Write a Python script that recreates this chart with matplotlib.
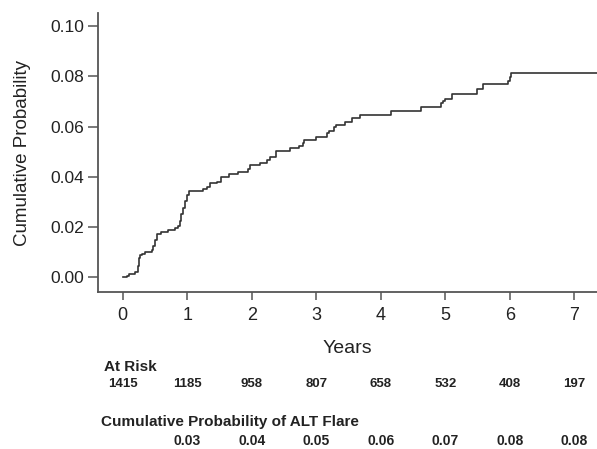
import numpy as np
import matplotlib
matplotlib.use("Agg")
import matplotlib.pyplot as plt
import matplotlib.transforms as mtransforms

plt.rcParams['font.family'] = ['Liberation Sans', 'DejaVu Sans']

# step times (years) and cumulative probability after each step
times = [0.0, 0.06, 0.09, 0.19, 0.23, 0.25, 0.27, 0.30, 0.35, 0.45, 0.47, 0.50,
         0.53, 0.60, 0.70, 0.81, 0.86, 0.89, 0.91, 0.93, 0.96, 0.99, 1.02, 1.25,
         1.30, 1.36, 1.46, 1.53, 1.65, 1.79, 1.94, 1.97, 2.125, 2.23, 2.29, 2.37,
         2.59, 2.73, 2.79, 2.81, 3.00, 3.16, 3.20, 3.28, 3.30, 3.45, 3.56, 3.68,
         4.15, 4.62, 4.93, 4.96, 4.99, 5.10, 5.49, 5.58, 5.975, 5.995, 6.01]
cumprob = [0.0, 0.0006, 0.0013, 0.0022, 0.0045, 0.0075, 0.0088, 0.0093, 0.0101,
           0.0109, 0.0125, 0.0150, 0.0172, 0.0180, 0.0187, 0.0195, 0.0204, 0.0222,
           0.0250, 0.0275, 0.0305, 0.0328, 0.0343, 0.0350, 0.0361, 0.0375, 0.0381,
           0.0399, 0.0411, 0.0418, 0.0430, 0.0449, 0.0457, 0.0467, 0.0480, 0.0502,
           0.0514, 0.0523, 0.0536, 0.0547, 0.0560, 0.0574, 0.0584, 0.0597, 0.0607,
           0.0620, 0.0633, 0.0647, 0.0663, 0.0680, 0.0693, 0.0704, 0.0712, 0.0729,
           0.0749, 0.0770, 0.0783, 0.0799, 0.0815]
follow_up_end = 7.35

risk_years = [0, 1, 2, 3, 4, 5, 6, 7]
at_risk = [1415, 1185, 958, 807, 658, 532, 408, 197]
flare_years = [1, 2, 3, 4, 5, 6, 7]
flare_prob = ["0.03", "0.04", "0.05", "0.06", "0.07", "0.08", "0.08"]

fig = plt.figure(figsize=(5.97, 4.49), dpi=100)
ax = fig.add_axes([0.1637, 0.3497, 1.0 - 0.1637, 0.971 - 0.3497])

x = times + [follow_up_end]
y = cumprob + [cumprob[-1]]
ax.step(x, y, where='post', color='#333333', lw=1.2)

ax.set_xlim(-0.387, follow_up_end)
ax.set_ylim(-0.0059, 0.1053)
ax.set_xticks(risk_years)
ax.set_yticks([0.0, 0.02, 0.04, 0.06, 0.08, 0.10])
ax.set_yticklabels(["0.00", "0.02", "0.04", "0.06", "0.08", "0.10"])

for s in ['top', 'right']:
    ax.spines[s].set_visible(False)
for s in ['left', 'bottom']:
    ax.spines[s].set_color('#555555')
    ax.spines[s].set_linewidth(1.3)

ax.tick_params(axis='x', length=6, width=1.1, color='#555555', labelsize=13,
               labelcolor='#222222', pad=5)
ax.tick_params(axis='y', length=7, width=1.1, color='#555555', labelsize=12.5,
               labelcolor='#222222', pad=3)

ax.set_xlabel("Years", fontsize=14, color='#222222', labelpad=11)
ax.set_ylabel("Cumulative Probability", fontsize=13.5, color='#222222', labelpad=14)

# number-at-risk table below the axis
trans = mtransforms.blended_transform_factory(ax.transData, fig.transFigure)
fig.text(104 / 597, 1 - 367 / 449, "At Risk", fontsize=11, fontweight='bold',
         color='#222222', va='center', ha='left')
for yr, n in zip(risk_years, at_risk):
    ax.text(yr, 1 - 384 / 449, str(n), transform=trans, fontsize=9.5,
            fontweight='bold', color='#222222', ha='center', va='center')

fig.text(101 / 597, 1 - 422 / 449, "Cumulative Probability of ALT Flare",
         fontsize=11, fontweight='bold', color='#222222', va='center', ha='left')
for yr, p in zip(flare_years, flare_prob):
    ax.text(yr, 1 - 441 / 449, p, transform=trans, fontsize=10,
            fontweight='bold', color='#222222', ha='center', va='center')

fig.savefig("out.png", dpi=100)
